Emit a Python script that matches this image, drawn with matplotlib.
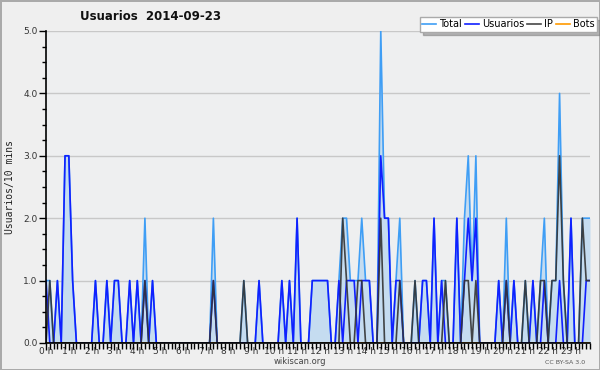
import numpy as np
import matplotlib
matplotlib.use("Agg")
import matplotlib.pyplot as plt
from matplotlib.ticker import MultipleLocator, FixedLocator

# ---- data (10-minute intervals, 144 per day) ----
usuarios = [1, 0, 0, 1, 0, 3, 3, 1, 0, 0, 0, 0, 0, 1, 0, 0, 1, 0, 1, 1,
            0, 0, 1, 0, 1, 0, 1, 0, 1, 0, 0, 0, 0, 0, 0, 0, 0, 0, 0, 0,
            0, 0, 0, 0, 1, 0, 0, 0, 0, 0, 0, 0, 0, 0, 0, 0, 1, 0, 0, 0,
            0, 0, 1, 0, 1, 0, 2, 0, 0, 0, 1, 1, 1, 1, 1, 0, 0, 1, 0, 1,
            1, 1, 0, 1, 1, 1, 0, 0, 3, 2, 2, 0, 1, 1, 0, 0, 0, 0, 0, 1,
            1, 0, 2, 0, 1, 0, 0, 0, 2, 0, 1, 2, 1, 2, 0, 0, 0, 0, 0, 1,
            0, 1, 0, 1, 0, 0, 0, 0, 1, 0, 0, 1, 0, 0, 0, 1, 0, 0, 2, 0,
            0, 0, 1, 1]
ip = [0, 1, 0, 0, 0, 0, 0, 0, 0, 0, 0, 0, 0, 0, 0, 0, 0, 0, 0, 0,
      0, 0, 0, 0, 0, 0, 1, 0, 0, 0, 0, 0, 0, 0, 0, 0, 0, 0, 0, 0,
      0, 0, 0, 0, 1, 0, 0, 0, 0, 0, 0, 0, 1, 0, 0, 0, 0, 0, 0, 0,
      0, 0, 0, 0, 0, 0, 0, 0, 0, 0, 0, 0, 0, 0, 0, 0, 0, 0, 2, 1,
      0, 0, 1, 1, 0, 0, 0, 0, 2, 0, 0, 0, 0, 1, 0, 0, 0, 1, 0, 0,
      0, 0, 0, 0, 0, 1, 0, 0, 0, 0, 1, 1, 0, 1, 0, 0, 0, 0, 0, 0,
      0, 1, 0, 0, 0, 0, 1, 0, 0, 0, 1, 1, 0, 1, 1, 3, 1, 0, 0, 0,
      0, 2, 1, 1]
bots = [0] * 144
total = [u + i + b for u, i, b in zip(usuarios, ip, bots)]
hour_labels = [f"{h} h" for h in range(24)]

title = "Usuarios  2014-09-23"
series_names = ["Total", "Usuarios", "IP", "Bots"]
colors = ["#3f9ef5", "#1020ff", "#333333", "#ff9900"]

# ---- figure ----
fig = plt.figure(figsize=(6, 3.7), dpi=100, facecolor="#efefef",
                 edgecolor="#aaaaaa", linewidth=2)
ax = fig.add_axes([46 / 600, 1 - 343 / 370, 544 / 600, 312 / 370])
ax.set_facecolor("#eeeff0")

x = np.arange(len(total))
ax.fill_between(x, total, 0, color="#c5dcf0", lw=0, zorder=1)
lt, = ax.plot(x, bots, color=colors[3], lw=1.2, zorder=1.5)
l1, = ax.plot(x, total, color=colors[0], lw=1.2, zorder=2)
l2, = ax.plot(x, usuarios, color=colors[1], lw=1.2, zorder=3)
l3, = ax.plot(x, ip, color=colors[2], lw=1.2, zorder=4, alpha=0.9)

ax.set_xlim(0, len(total) - 1)
ax.set_ylim(0, 5)

ax.yaxis.set_major_locator(MultipleLocator(1))
ax.yaxis.set_minor_locator(MultipleLocator(0.25))
ax.set_yticklabels([f"{v:.1f}" for v in ax.get_yticks()])
ax.grid(axis="y", color="#c8c8c8", lw=1, zorder=0)
ax.set_axisbelow(True)

ax.xaxis.set_major_locator(FixedLocator(np.arange(24) * 6))
ax.set_xticklabels(hour_labels)
ax.xaxis.set_minor_locator(MultipleLocator(1))

ax.tick_params(axis="x", which="major", length=5, width=1, labelsize=6.5,
               pad=-2, colors="#000000", labelcolor="#333333")
ax.tick_params(axis="x", which="minor", length=4, width=1)
ax.tick_params(axis="y", which="major", length=5, width=1, labelsize=6.5,
               pad=1, labelcolor="#333333")
ax.tick_params(axis="y", which="minor", length=3, width=1)
for lab in ax.get_xticklabels():
    lab.set_horizontalalignment("center")

for s in ["top", "right"]:
    ax.spines[s].set_visible(False)
for s in ["left", "bottom"]:
    ax.spines[s].set_linewidth(1.2)
    ax.spines[s].set_color("#000000")
    ax.spines[s].set_zorder(6)

ax.set_ylabel("Usuarios/10 mins", family="DejaVu Sans Mono", fontsize=7,
              labelpad=6, color="#222222")

fig.text(151 / 600, 1 - 16 / 370, title, ha="center", va="center",
         fontsize=8.5, fontweight="bold", color="#111111")

leg = fig.legend([l1, l2, l3, lt], series_names, loc="upper right",
                 bbox_to_anchor=(597 / 600, 1 - 17 / 370), ncol=4,
                 fontsize=7, handlelength=1.4, handletextpad=0.35,
                 columnspacing=0.3, borderpad=0.25, frameon=True,
                 fancybox=False, shadow={"color": "#777777"},
                 edgecolor="#aaaaaa", borderaxespad=0)
leg.get_frame().set_linewidth(1)
leg.get_frame().set_facecolor("white")

fig.text(300 / 600, 1 - 361 / 370, "wikiscan.org", ha="center", va="center",
         fontsize=6, color="#444444")
fig.text(565 / 600, 1 - 362 / 370, "CC BY-SA 3.0", ha="center", va="center",
         fontsize=4.5, color="#555555")

fig.savefig("out.png", dpi=100, facecolor=fig.get_facecolor(),
            edgecolor=fig.get_edgecolor())
